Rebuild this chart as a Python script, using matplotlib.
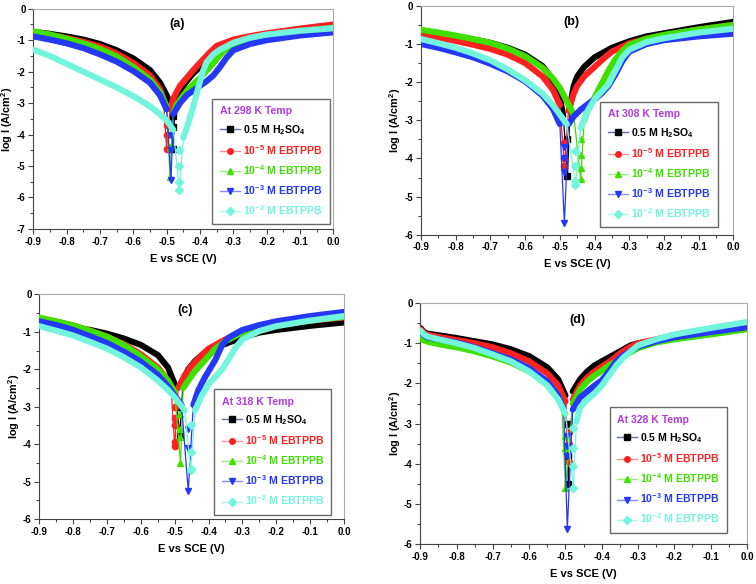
# Tafel plots of mild steel in 0.5 M H2SO4 with EBTPPB, four temperatures

import matplotlib
matplotlib.use("Agg")
import matplotlib.pyplot as plt
from matplotlib.lines import Line2D
from matplotlib.ticker import MultipleLocator

plt.rcParams['font.family'] = ['Liberation Sans', 'DejaVu Sans']
plt.rcParams['font.weight'] = 'bold'
plt.rcParams['mathtext.default'] = 'regular'

# series info
labels = ["0.5 M H$_2$SO$_4$", "10$^{-5}$ M EBTPPB", "10$^{-4}$ M EBTPPB",
          "10$^{-3}$ M EBTPPB", "10$^{-2}$ M EBTPPB"]
colors = ["#000000", "#ff2020", "#3fe000", "#2438f5", "#72f5dc"]
leg_line = ["#6070a8", "#ff9090", "#9cf080", "#8090f8", "#b0f8ea"]
markers = ["s", "o", "^", "v", "D"]
temps = [298, 308, 318, 328]
panels = ["(a)", "(b)", "(c)", "(d)"]

# ---- (a) 298 K ----
E_a = [
    [-0.9, -0.85, -0.8, -0.75, -0.7, -0.65, -0.6, -0.55, -0.52, -0.50, -0.49,
     -0.475, -0.46, -0.44, -0.42, -0.40, -0.37, -0.35, -0.3, -0.25, -0.2, -0.1, 0.0],
    [-0.9, -0.85, -0.8, -0.75, -0.7, -0.65, -0.6, -0.55, -0.52, -0.51,
     -0.49, -0.48, -0.46, -0.44, -0.42, -0.40, -0.37, -0.35, -0.3, -0.25, -0.2, -0.1, 0.0],
    [-0.9, -0.85, -0.8, -0.75, -0.7, -0.65, -0.6, -0.55, -0.52, -0.50,
     -0.48, -0.47, -0.45, -0.43, -0.40, -0.37, -0.35, -0.33, -0.3, -0.25, -0.2, -0.1, 0.0],
    [-0.9, -0.85, -0.8, -0.75, -0.7, -0.65, -0.6, -0.55, -0.52, -0.50,
     -0.48, -0.46, -0.44, -0.42, -0.40, -0.38, -0.36, -0.34, -0.32, -0.3, -0.25, -0.2, -0.1, 0.0],
    [-0.9, -0.85, -0.8, -0.75, -0.7, -0.65, -0.6, -0.55, -0.52, -0.50, -0.48,
     -0.45, -0.44, -0.43, -0.42, -0.41, -0.40, -0.39, -0.38, -0.36, -0.34, -0.3, -0.25, -0.2, -0.1, 0.0],
]
logI_a = [
    [-0.73, -0.8, -0.88, -0.98, -1.12, -1.32, -1.58, -1.95, -2.35, -2.75, -3.0,
     -3.2, -2.6, -2.3, -2.05, -1.85, -1.6, -1.4, -1.08, -0.92, -0.8, -0.65, -0.52],
    [-0.75, -0.83, -0.93, -1.05, -1.2, -1.42, -1.72, -2.12, -2.55, -2.85,
     -3.2, -2.85, -2.45, -2.2, -1.95, -1.72, -1.38, -1.18, -0.98, -0.87, -0.78, -0.63, -0.5],
    [-0.72, -0.82, -0.95, -1.1, -1.28, -1.52, -1.85, -2.25, -2.65, -3.1,
     -3.3, -3.05, -2.75, -2.5, -2.2, -1.85, -1.6, -1.35, -1.12, -0.97, -0.86, -0.72, -0.6],
    [-0.88, -0.98, -1.1, -1.25, -1.45, -1.68, -1.98, -2.35, -2.75, -3.2,
     -3.35, -3.0, -2.75, -2.6, -2.45, -2.3, -2.12, -1.85, -1.55, -1.32, -1.12, -1.0, -0.85, -0.75],
    [-1.3, -1.5, -1.75, -2.0, -2.25, -2.5, -2.78, -3.1, -3.35, -3.55, -3.85,
     -4.1, -3.8, -3.45, -3.1, -2.7, -2.3, -1.95, -1.7, -1.45, -1.3, -1.08, -0.92, -0.82, -0.7, -0.62],
]
ecorr_a = [-0.482, -0.50, -0.49, -0.487, -0.462]
dip_a = [[-3.4, -3.75, -4.45], [-3.7, -4.0, -4.45], [-4.4, -5.35],
         [-4.0, -4.5, -5.45], [-4.5, -5.0, -5.5, -5.75]]

# ---- (b) 308 K ----
E_b = [
    [-0.9, -0.85, -0.8, -0.75, -0.7, -0.65, -0.6, -0.55, -0.52, -0.50, -0.49,
     -0.47, -0.46, -0.45, -0.43, -0.40, -0.37, -0.35, -0.3, -0.25, -0.2, -0.1, 0.0],
    [-0.9, -0.85, -0.8, -0.75, -0.7, -0.65, -0.6, -0.55, -0.52, -0.50,
     -0.475, -0.46, -0.45, -0.43, -0.40, -0.37, -0.35, -0.3, -0.25, -0.2, -0.1, 0.0],
    [-0.9, -0.85, -0.8, -0.75, -0.7, -0.65, -0.6, -0.55, -0.52, -0.50, -0.48, -0.46,
     -0.43, -0.42, -0.40, -0.38, -0.36, -0.34, -0.32, -0.3, -0.25, -0.2, -0.1, 0.0],
    [-0.9, -0.85, -0.8, -0.75, -0.7, -0.65, -0.6, -0.55, -0.52, -0.50,
     -0.475, -0.46, -0.44, -0.42, -0.40, -0.38, -0.36, -0.34, -0.32, -0.3, -0.25, -0.2, -0.1, 0.0],
    [-0.9, -0.85, -0.8, -0.75, -0.7, -0.65, -0.6, -0.55, -0.52, -0.50, -0.48,
     -0.44, -0.42, -0.40, -0.38, -0.36, -0.34, -0.32, -0.3, -0.25, -0.2, -0.1, 0.0],
]
logI_b = [
    [-0.68, -0.74, -0.8, -0.88, -0.97, -1.1, -1.28, -1.58, -1.95, -2.4, -2.9,
     -2.6, -2.1, -1.85, -1.6, -1.35, -1.2, -1.1, -0.93, -0.8, -0.72, -0.56, -0.42],
    [-0.76, -0.83, -0.92, -1.02, -1.13, -1.28, -1.5, -1.85, -2.2, -2.6,
     -2.75, -2.3, -2.1, -1.85, -1.6, -1.35, -1.2, -0.98, -0.86, -0.77, -0.62, -0.5],
    [-0.63, -0.7, -0.78, -0.87, -0.97, -1.12, -1.32, -1.62, -1.9, -2.15, -2.5, -2.85,
     -3.0, -2.75, -2.4, -2.05, -1.7, -1.4, -1.18, -1.02, -0.86, -0.76, -0.62, -0.5],
    [-1.0, -1.1, -1.22, -1.35, -1.52, -1.72, -1.98, -2.35, -2.7, -3.1,
     -3.1, -2.9, -2.72, -2.58, -2.45, -2.3, -2.1, -1.8, -1.45, -1.2, -1.0, -0.9, -0.8, -0.73],
    [-0.87, -0.98, -1.1, -1.25, -1.43, -1.67, -1.95, -2.3, -2.6, -2.85, -3.1,
     -3.2, -2.75, -2.45, -2.25, -2.05, -1.7, -1.35, -1.15, -0.95, -0.85, -0.7, -0.6],
]
ecorr_b = [-0.478, -0.487, -0.44, -0.487, -0.455]
dip_b = [[-3.5, -4.45], [-3.6, -4.0, -4.2], [-3.5, -3.9, -4.25, -4.55],
         [-3.7, -4.0, -4.35, -5.7], [-3.8, -4.2, -4.6, -4.7]]

# ---- (c) 318 K ----
E_c = [
    [-0.9, -0.85, -0.8, -0.75, -0.7, -0.65, -0.6, -0.55, -0.52, -0.50,
     -0.475, -0.46, -0.44, -0.42, -0.40, -0.37, -0.35, -0.3, -0.25, -0.2, -0.1, 0.0],
    [-0.9, -0.85, -0.8, -0.75, -0.7, -0.65, -0.6, -0.55, -0.52, -0.51,
     -0.49, -0.47, -0.45, -0.42, -0.40, -0.37, -0.35, -0.3, -0.25, -0.2, -0.1, 0.0],
    [-0.9, -0.85, -0.8, -0.75, -0.7, -0.65, -0.6, -0.55, -0.52, -0.50,
     -0.475, -0.46, -0.44, -0.42, -0.40, -0.38, -0.35, -0.3, -0.25, -0.2, -0.1, 0.0],
    [-0.9, -0.85, -0.8, -0.75, -0.7, -0.65, -0.6, -0.55, -0.52, -0.50, -0.48,
     -0.445, -0.43, -0.41, -0.40, -0.38, -0.36, -0.34, -0.3, -0.25, -0.2, -0.1, 0.0],
    [-0.9, -0.85, -0.8, -0.75, -0.7, -0.65, -0.6, -0.55, -0.52, -0.50, -0.47,
     -0.44, -0.42, -0.40, -0.38, -0.36, -0.34, -0.32, -0.3, -0.25, -0.2, -0.1, 0.0],
]
logI_c = [
    [-0.78, -0.82, -0.88, -0.95, -1.05, -1.18, -1.35, -1.62, -1.95, -2.4,
     -2.3, -2.0, -1.78, -1.62, -1.5, -1.38, -1.32, -1.15, -1.02, -0.95, -0.84, -0.75],
    [-0.65, -0.73, -0.83, -0.97, -1.13, -1.33, -1.6, -1.95, -2.3, -2.6,
     -2.5, -2.15, -1.9, -1.62, -1.45, -1.3, -1.2, -1.02, -0.9, -0.8, -0.7, -0.62],
    [-0.62, -0.72, -0.83, -0.97, -1.13, -1.35, -1.65, -2.0, -2.3, -2.6,
     -2.5, -2.3, -2.05, -1.85, -1.65, -1.45, -1.25, -1.02, -0.9, -0.82, -0.7, -0.6],
    [-0.72, -0.82, -0.95, -1.12, -1.3, -1.53, -1.8, -2.15, -2.45, -2.7, -2.95,
     -2.95, -2.55, -2.2, -2.05, -1.75, -1.35, -1.15, -0.95, -0.82, -0.72, -0.58, -0.47],
    [-0.85, -0.97, -1.1, -1.27, -1.45, -1.68, -1.95, -2.3, -2.55, -2.75, -3.1,
     -3.1, -2.7, -2.4, -2.2, -2.0, -1.72, -1.42, -1.2, -0.98, -0.85, -0.7, -0.58],
]
ecorr_c = [-0.485, -0.50, -0.483, -0.46, -0.453]
dip_c = [[-3.0, -3.75], [-3.0, -3.3, -3.5, -3.95, -4.05], [-3.2, -3.6, -3.8, -4.5],
         [-3.6, -4.1, -5.25], [-3.5, -4.2, -4.65, -4.7]]

# ---- (d) 328 K ----
E_d = [
    [-0.9, -0.89, -0.88, -0.85, -0.8, -0.75, -0.7, -0.65, -0.6, -0.55, -0.52, -0.50,
     -0.48, -0.46, -0.44, -0.42, -0.40, -0.37, -0.35, -0.32, -0.3, -0.25, -0.2, -0.1, 0.0],
    [-0.9, -0.89, -0.88, -0.85, -0.8, -0.75, -0.7, -0.65, -0.6, -0.55, -0.52, -0.50,
     -0.48, -0.46, -0.44, -0.42, -0.40, -0.37, -0.35, -0.32, -0.3, -0.25, -0.2, -0.1, 0.0],
    [-0.9, -0.89, -0.88, -0.85, -0.8, -0.75, -0.7, -0.65, -0.6, -0.55, -0.52, -0.51,
     -0.48, -0.46, -0.44, -0.42, -0.40, -0.38, -0.36, -0.34, -0.3, -0.25, -0.2, -0.1, 0.0],
    [-0.9, -0.89, -0.88, -0.85, -0.8, -0.75, -0.7, -0.65, -0.6, -0.55, -0.52, -0.505,
     -0.48, -0.46, -0.44, -0.42, -0.40, -0.38, -0.36, -0.34, -0.3, -0.25, -0.2, -0.1, 0.0],
    [-0.9, -0.89, -0.88, -0.85, -0.8, -0.75, -0.7, -0.65, -0.6, -0.55, -0.52, -0.50,
     -0.47, -0.46, -0.44, -0.42, -0.40, -0.38, -0.36, -0.34, -0.3, -0.25, -0.2, -0.1, 0.0],
]
logI_d = [
    [-0.62, -0.72, -0.76, -0.8, -0.87, -0.95, -1.03, -1.15, -1.32, -1.6, -1.9, -2.3,
     -2.2, -1.9, -1.7, -1.55, -1.45, -1.3, -1.2, -1.05, -1.0, -0.92, -0.85, -0.72, -0.6],
    [-0.65, -0.74, -0.79, -0.84, -0.92, -1.0, -1.1, -1.25, -1.45, -1.75, -2.05, -2.45,
     -2.4, -2.05, -1.85, -1.7, -1.58, -1.4, -1.25, -1.08, -1.0, -0.9, -0.82, -0.68, -0.58],
    [-0.88, -0.93, -0.96, -1.02, -1.1, -1.2, -1.33, -1.48, -1.7, -2.0, -2.3, -2.55,
     -2.5, -2.15, -1.95, -1.8, -1.68, -1.55, -1.45, -1.32, -1.12, -0.98, -0.9, -0.78, -0.65],
    [-0.72, -0.8, -0.85, -0.9, -0.98, -1.1, -1.25, -1.4, -1.62, -1.95, -2.3, -2.65,
     -2.65, -2.35, -2.2, -2.05, -1.92, -1.7, -1.45, -1.3, -1.08, -0.95, -0.85, -0.72, -0.6],
    [-0.68, -0.78, -0.83, -0.9, -1.0, -1.12, -1.28, -1.45, -1.7, -2.05, -2.4, -2.75,
     -2.95, -2.6, -2.4, -2.25, -2.05, -1.8, -1.55, -1.35, -1.05, -0.9, -0.78, -0.62, -0.47],
]
ecorr_d = [-0.492, -0.49, -0.50, -0.495, -0.478]
dip_d = [[-3.0, -3.8, -4.5], [-3.2, -3.5, -3.95], [-3.3, -3.6, -4.6],
         [-3.3, -3.55, -3.8, -5.62], [-3.1, -3.6, -4.05, -4.6]]

all_E = [E_a, E_b, E_c, E_d]
all_I = [logI_a, logI_b, logI_c, logI_d]
all_ecorr = [ecorr_a, ecorr_b, ecorr_c, ecorr_d]
all_dip = [dip_a, dip_b, dip_c, dip_d]
ymins = [-7, -6, -6, -6]

# layout (figure fractions)
ax_pos = [[0.044, 0.608, 0.397, 0.377],
          [0.557, 0.598, 0.413, 0.392],
          [0.052, 0.111, 0.403, 0.385],
          [0.556, 0.068, 0.432, 0.413]]
leg_anchor = [(0.597, 0.59), (0.574, 0.58), (0.574, 0.578), (0.58, 0.568)]

fig = plt.figure(figsize=(7.56, 5.84), dpi=100)

for p in range(4):
    ax = fig.add_axes(ax_pos[p])
    for i in range(5):
        E = all_E[p][i]
        I = all_I[p][i]
        ec = all_ecorr[p][i]
        dip = all_dip[p][i]
        left = [k for k in range(len(E)) if E[k] < ec]
        right = [k for k in range(len(E)) if E[k] >= ec]
        c = colors[i]
        # thin spike down to the corrosion potential
        ax.plot([E[left[-1]], ec, ec, E[right[0]]],
                [I[left[-1]], min(dip), min(dip), I[right[0]]],
                color=c, lw=0.9, zorder=2 + i)
        ax.plot([ec] * len(dip), dip, ls='none', marker=markers[i], ms=4.5,
                color=c, zorder=2 + i)
        # dense data points drawn as thick branches
        ax.plot([E[k] for k in left], [I[k] for k in left], color=c, lw=4.4,
                solid_capstyle='round', solid_joinstyle='round', zorder=2 + i)
        ax.plot([E[k] for k in right], [I[k] for k in right], color=c, lw=4.4,
                solid_capstyle='round', solid_joinstyle='round', zorder=2 + i)

    ax.set_xlim(-0.9, 0.0)
    ax.set_ylim(ymins[p], 0)
    ax.xaxis.set_major_locator(MultipleLocator(0.1))
    ax.xaxis.set_minor_locator(MultipleLocator(0.05))
    ax.yaxis.set_major_locator(MultipleLocator(1))
    ax.yaxis.set_minor_locator(MultipleLocator(0.5))
    ax.xaxis.set_major_formatter(plt.FormatStrFormatter('%.1f'))
    ax.yaxis.set_major_formatter(plt.FormatStrFormatter('%d'))
    ax.tick_params(which='both', direction='out', color='#444444', width=0.8)
    ax.tick_params(which='major', length=3.5, labelsize=7, pad=2)
    ax.tick_params(which='minor', length=2)
    for t in ax.get_xticklabels() + ax.get_yticklabels():
        t.set_fontweight('bold')
    for s in ['left', 'bottom']:
        ax.spines[s].set_color('#444444')
    for s in ['top', 'right']:
        ax.spines[s].set_color('#aaaaaa')
    ax.set_xlabel("E vs SCE (V)", fontsize=8, fontweight='bold', labelpad=5)
    ax.set_ylabel("log I (A/cm$^2$)", fontsize=7.8, fontweight='bold', labelpad=1)
    ax.text(0.48, 0.93, panels[p], transform=ax.transAxes, ha='center', va='center',
            fontsize=9, fontweight='bold')

    handles = [Line2D([0], [0], color=leg_line[i], lw=1, marker=markers[i], ms=4,
                      mfc=colors[i], mec=colors[i]) for i in range(5)]
    leg = ax.legend(handles, labels, loc='upper left', bbox_to_anchor=leg_anchor[p],
                    borderaxespad=0, frameon=True, fancybox=False, edgecolor='#444444',
                    prop={'weight': 'bold', 'size': 7.6}, handlelength=1.9,
                    handletextpad=0.3, labelspacing=0.6, borderpad=0.7,
                    title="At %d K Temp" % temps[p],
                    title_fontproperties={'weight': 'bold', 'size': 7.6},
                    alignment='left')
    leg.get_frame().set_linewidth(1.0)
    leg.get_title().set_color('#b03ae0')
    for t, c in zip(leg.get_texts(), colors):
        t.set_color(c)
    leg.set_zorder(20)

fig.savefig("out.png", dpi=100)
